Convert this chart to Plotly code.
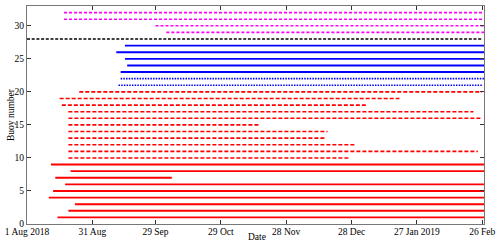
import plotly.graph_objects as go

# ---- data ----
buoy_ids = list(range(1, 33))
start_dates = [
    "2018-08-15", "2018-08-20", "2018-08-23", "2018-08-11", "2018-08-13",
    "2018-08-18 12:00", "2018-08-14", "2018-08-21", "2018-08-12",
    "2018-08-20", "2018-08-20", "2018-08-20", "2018-08-20", "2018-08-20", "2018-08-20",
    "2018-08-20", "2018-08-20", "2018-08-17", "2018-08-16", "2018-08-25",
    "2018-09-12", "2018-09-13", "2018-09-13", "2018-09-16", "2018-09-15",
    "2018-09-11", "2018-09-15",
    "2018-08-01",
    "2018-10-04", "2018-09-29", "2018-08-18", "2018-08-18",
]
end_dates = [
    "2019-02-27", "2019-02-27", "2019-02-27", "2019-02-27", "2019-02-27",
    "2019-02-27", "2018-10-06 12:00", "2019-02-27", "2019-02-27",
    "2018-12-27", "2019-02-24", "2018-12-30", "2018-12-16", "2018-12-17", "2018-11-16",
    "2019-02-26", "2019-02-22", "2019-01-04", "2019-01-19", "2019-02-26",
    "2019-02-26", "2019-02-27", "2019-02-27", "2019-02-27", "2019-02-27",
    "2019-02-27", "2019-02-27",
    "2019-02-26",
    "2019-02-27", "2019-02-27", "2019-02-27", "2019-02-27",
]
buoy_group = (["red_solid"] * 9 + ["red_dash"] * 11 + ["blue_dot"] * 2 +
              ["blue_solid"] * 5 + ["black_dash"] + ["magenta_dash"] * 4)

x_tick_dates = ["2018-08-01", "2018-08-31", "2018-09-29", "2018-10-29",
                "2018-11-28", "2018-12-28", "2019-01-27", "2019-02-26"]
x_tick_labels = ["1 Aug 2018", "31 Aug", "29 Sep", "29 Oct",
                 "28 Nov", "28 Dec", "27 Jan 2019", "26 Feb"]
y_tick_vals = [0, 5, 10, 15, 20, 25, 30]

# ---- styles ----
styles = {
    "red_solid": dict(color="#ff0000", width=1.9, dash="solid"),
    "red_dash": dict(color="#ff0000", width=1.6, dash="4px,2px"),
    "blue_dot": dict(color="#0000ff", width=1.6, dash="1.5px,1.2px"),
    "blue_solid": dict(color="#0000ff", width=1.9, dash="solid"),
    "black_dash": dict(color="#000000", width=1.6, dash="3px,1.7px"),
    "magenta_dash": dict(color="#ff00ff", width=1.6, dash="3px,2px"),
}

fig = go.Figure()
for bid, s, e, g in zip(buoy_ids, start_dates, end_dates, buoy_group):
    fig.add_trace(go.Scatter(
        x=[s, e], y=[bid, bid], mode="lines",
        line=styles[g], showlegend=False, hoverinfo="skip",
    ))

font = dict(family="Liberation Serif, Times New Roman, serif", size=9.5, color="#000000")

fig.update_layout(
    width=500, height=245,
    margin=dict(l=26, r=14, t=5, b=21),
    paper_bgcolor="white", plot_bgcolor="white",
    font=font,
    showlegend=False,
)
fig.update_xaxes(
    type="date",
    range=["2018-08-01", "2019-02-26 20:00"],
    tickvals=x_tick_dates, ticktext=x_tick_labels,
    ticks="inside", ticklen=4, tickcolor="#333333", tickwidth=1,
    showline=True, linecolor="#777777", linewidth=1.3, mirror="ticks",
    showgrid=False, zeroline=False, tickfont=font, ticklabelstandoff=-2,
)
fig.update_yaxes(
    range=[0, 33],
    tickvals=y_tick_vals,
    ticks="inside", ticklen=4, tickcolor="#333333", tickwidth=1,
    showline=True, linecolor="#777777", linewidth=1.3, mirror="ticks",
    showgrid=False, zeroline=False, tickfont=font,
)
fig.add_annotation(text="Date", xref="paper", yref="paper", x=0.503, y=0,
                   yanchor="middle", yshift=-13, showarrow=False, font=font)
fig.add_annotation(text="Buoy number", xref="paper", yref="paper", x=0, y=0.5,
                   xanchor="center", xshift=-16, textangle=-90, showarrow=False, font=font)

fig.write_html("out.html", config={"displayModeBar": False},
               post_script="document.body.style.margin='0';")
